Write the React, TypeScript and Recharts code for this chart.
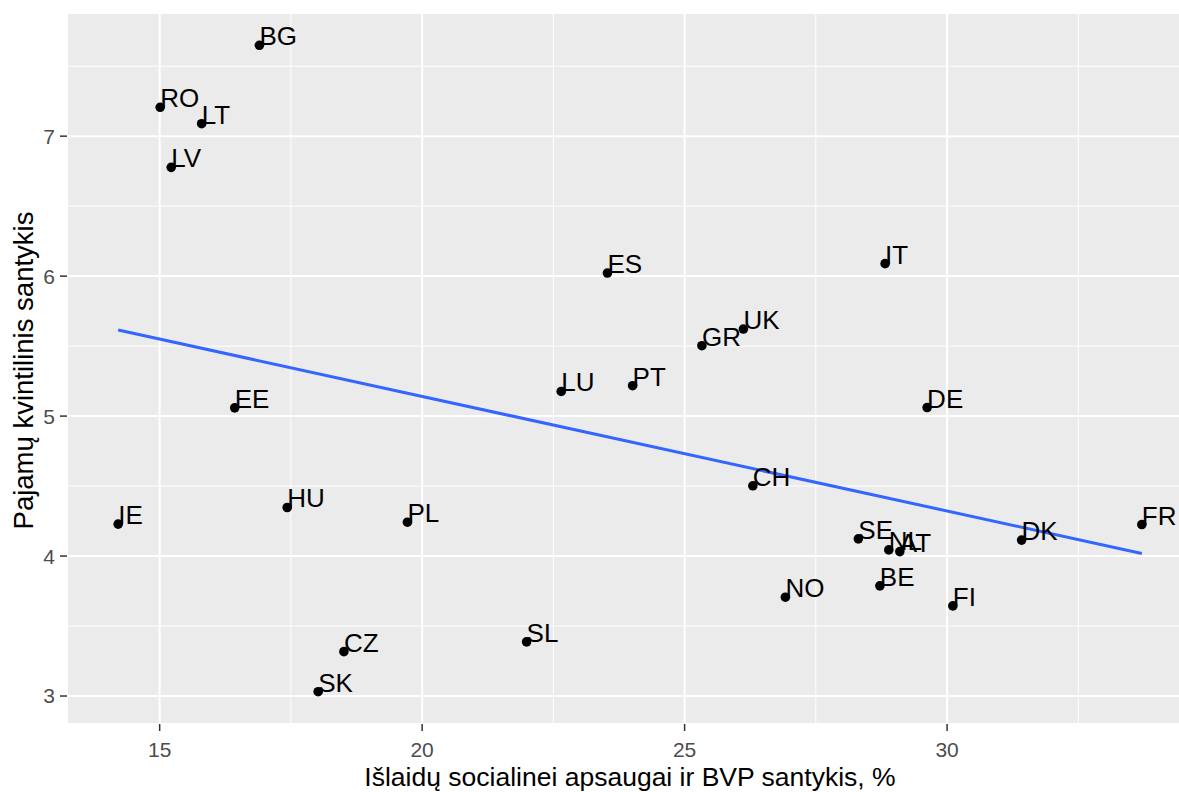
import React from 'react';
import { ScatterChart, Scatter, XAxis, YAxis, CartesianGrid, ReferenceLine } from 'recharts';

// Country codes
const countries = [
  'BG', 'RO', 'LT', 'LV', 'ES', 'IT', 'UK', 'GR', 'PT', 'LU', 'DE', 'EE', 'CH', 'HU',
  'PL', 'IE', 'FR', 'DK', 'SE', 'NL', 'AT', 'BE', 'NO', 'FI', 'SL', 'CZ', 'SK',
];

// Social protection expenditure, % of GDP
const spending = [
  16.9, 15.01, 15.8, 15.22, 23.53, 28.82, 26.12, 25.33, 24.01, 22.65, 29.62, 16.43, 26.3, 17.43,
  19.72, 14.21, 33.71, 31.42, 28.31, 28.89, 29.1, 28.72, 26.92, 30.11, 21.99, 18.51, 18.02,
];

// Income quintile share ratio (S80/S20)
const quintileRatio = [
  7.649, 7.206, 7.089, 6.777, 6.022, 6.089, 5.622, 5.503, 5.217, 5.176, 5.061, 5.059, 4.502, 4.347,
  4.242, 4.228, 4.225, 4.114, 4.123, 4.044, 4.032, 3.787, 3.706, 3.644, 3.387, 3.317, 3.031,
];

const xTicks = [15, 20, 25, 30];
const yTicks = [3, 4, 5, 6, 7];
const xMinor = [17.5, 22.5, 27.5, 32.5];
const yMinor = [3.5, 4.5, 5.5, 6.5, 7.5];

const xTitle = 'Išlaidų socialinei apsaugai ir BVP santykis, %';
const yTitle = 'Pajamų kvintilinis santykis';

const points = countries.map((code, i) => ({ code, x: spending[i], y: quintileRatio[i] }));

// ggplot-style 5% expansion of the data range
const expand = (vals: number[]): [number, number] => {
  const lo = Math.min(...vals);
  const hi = Math.max(...vals);
  const pad = (hi - lo) * 0.05;
  return [lo - pad, hi + pad];
};
const xDomain = expand(spending);
const yDomain = expand(quintileRatio);

// Least-squares linear fit (geom_smooth(method = "lm"))
const n = spending.length;
const meanX = spending.reduce((a, b) => a + b, 0) / n;
const meanY = quintileRatio.reduce((a, b) => a + b, 0) / n;
let sxy = 0;
let sxx = 0;
for (let i = 0; i < n; i++) {
  sxy += (spending[i] - meanX) * (quintileRatio[i] - meanY);
  sxx += (spending[i] - meanX) ** 2;
}
const slope = sxy / sxx;
const intercept = meanY - slope * meanX;
const xMinData = Math.min(...spending);
const xMaxData = Math.max(...spending);
const fitSegment = [
  { x: xMinData, y: intercept + slope * xMinData },
  { x: xMaxData, y: intercept + slope * xMaxData },
];

const FONT = '"Liberation Sans", Arial, sans-serif';

const Dot = (props: any) => {
  const { cx, cy } = props;
  if (cx == null || cy == null) return <g />;
  return <circle cx={cx} cy={cy} r={4.8} fill="#000000" />;
};

const CodeLabel = (props: any) => {
  const { cx, cy, payload } = props;
  if (cx == null || cy == null) return <g />;
  return (
    <text x={cx} y={cy} fontFamily={FONT} fontSize={26} fill="#000000">
      {payload.code}
    </text>
  );
};

const XTitle = (props: any) => {
  const vb = props.viewBox || { x: 67, y: 724, width: 1126, height: 68 };
  return (
    <text
      x={vb.x + vb.width / 2}
      y={vb.y + 62}
      textAnchor="middle"
      fontFamily={FONT}
      fontSize={26.5}
      fill="#000000"
    >
      {xTitle}
    </text>
  );
};

const YTitle = (props: any) => {
  const vb = props.viewBox || { x: 0, y: 13, width: 67, height: 711 };
  const x = vb.x + 33;
  const y = vb.y + vb.height / 2 + 2;
  return (
    <text
      x={x}
      y={y}
      transform={`rotate(-90, ${x}, ${y})`}
      textAnchor="middle"
      fontFamily={FONT}
      fontSize={27.5}
      fill="#000000"
    >
      {yTitle}
    </text>
  );
};

export default function App() {
  return (
    <div
      style={{
        position: 'absolute',
        left: 0,
        top: 0,
        width: 1179,
        height: 792,
        overflow: 'hidden',
        background: '#FFFFFF',
      }}
    >
      <ScatterChart width={1200} height={792} margin={{ top: 13, right: 7, bottom: 0, left: 0 }}>
        <CartesianGrid fill="#EBEBEB" fillOpacity={1} stroke="#FFFFFF" strokeWidth={2} />
        {xMinor.map((v) => (
          <ReferenceLine key={`vx${v}`} x={v} stroke="#FFFFFF" strokeWidth={1} />
        ))}
        {yMinor.map((v) => (
          <ReferenceLine key={`hy${v}`} y={v} stroke="#FFFFFF" strokeWidth={1} />
        ))}
        <XAxis
          type="number"
          dataKey="x"
          domain={xDomain}
          ticks={xTicks}
          allowDataOverflow
          axisLine={false}
          tickSize={7}
          tickMargin={11}
          height={68}
          tick={{ fill: '#4D4D4D', fontSize: 21, fontFamily: FONT }}
          tickLine={{ stroke: '#333333', strokeWidth: 1.5 }}
          label={<XTitle />}
        />
        <YAxis
          type="number"
          dataKey="y"
          domain={yDomain}
          ticks={yTicks}
          allowDataOverflow
          axisLine={false}
          tickSize={7}
          tickMargin={5}
          width={67}
          tick={{ fill: '#4D4D4D', fontSize: 21, fontFamily: FONT }}
          tickLine={{ stroke: '#333333', strokeWidth: 1.5 }}
          label={<YTitle />}
        />
        <Scatter data={points} shape={<Dot />} isAnimationActive={false} />
        <Scatter data={points} shape={<CodeLabel />} isAnimationActive={false} />
        <ReferenceLine
          segment={fitSegment}
          stroke="#3366FF"
          strokeWidth={3}
          ifOverflow="visible"
        />
      </ScatterChart>
    </div>
  );
}
